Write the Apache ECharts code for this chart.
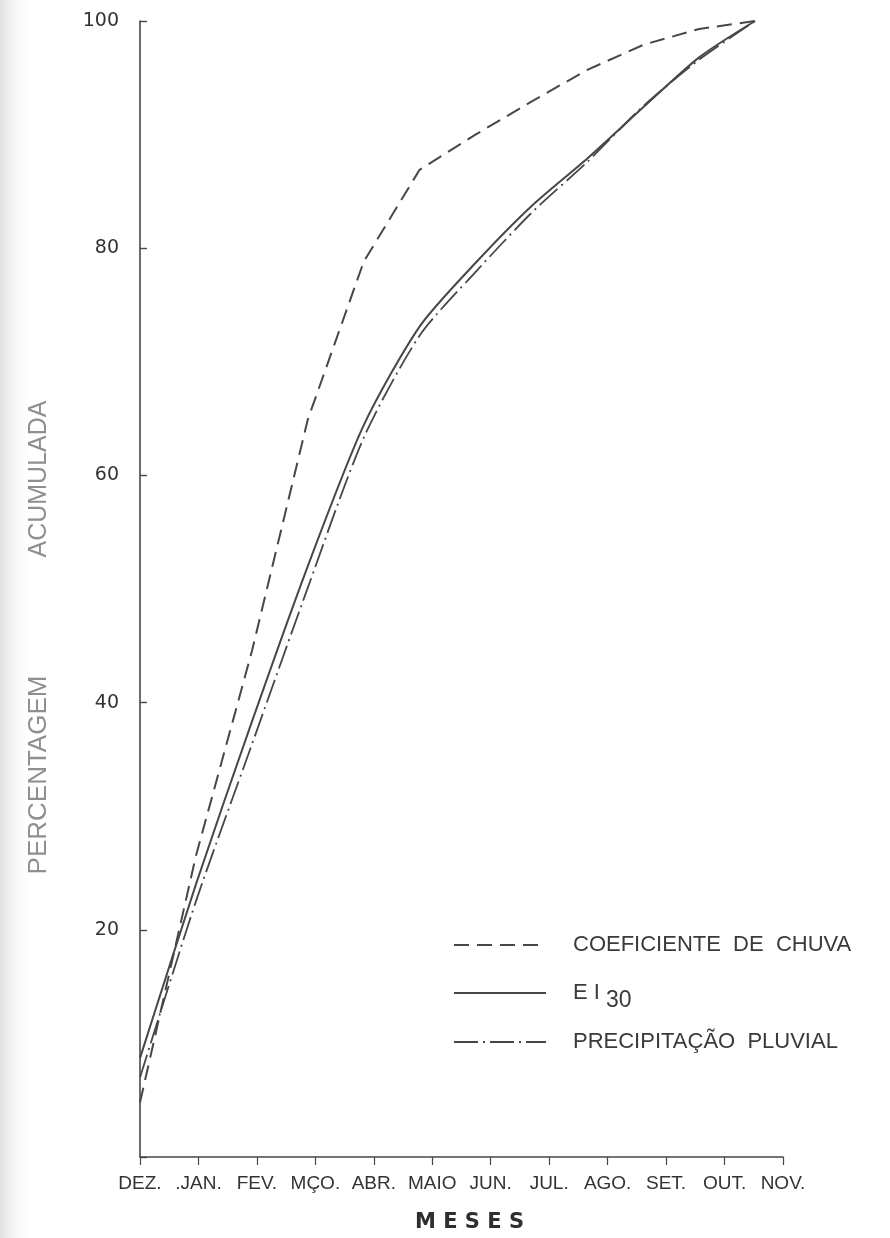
<!DOCTYPE html>
<html>
<head>
<meta charset="utf-8">
<script src="https://cdn.jsdelivr.net/npm/echarts@6/dist/echarts.min.js"></script>
<style>
html,body{margin:0;padding:0;background:#fff;}
#c{width:890px;height:1238px;}
</style>
</head>
<body>
<div id="c"></div>
<script>
// ---- data ----
const months = ['DEZ.', '.JAN.', 'FEV.', 'MÇO.', 'ABR.', 'MAIO', 'JUN.', 'JUL.', 'AGO.', 'SET.', 'OUT.', 'NOV.'];
const coefChuva = [4.8, 26.5, 44.5, 64.9, 78.8, 86.9, 90.0, 92.9, 95.7, 97.9, 99.3, 100];
const ei30 = [8.7, 24.0, 38.3, 52.0, 64.4, 73.1, 78.7, 83.7, 87.9, 92.4, 96.8, 100];
const precipitacao = [7.0, 22.5, 36.3, 50.1, 63.3, 72.3, 77.9, 83.1, 87.6, 92.5, 96.6, 100];
const yTickLabels = [20, 40, 60, 80, 100];
const seriesNames = ['COEFICIENTE  DE  CHUVA', 'EI30', 'PRECIPITAÇÃO  PLUVIAL'];

const ink = '#474747';
const pairs = arr => arr.map((v, i) => [i, v]);

const chart = echarts.init(document.getElementById('c'), null, {renderer: 'canvas'});

function legendAt(name, top) {
  const isEI = name === 'EI30';
  return {
    data: [name],
    left: 448,
    top: top,
    orient: 'vertical',
    itemWidth: 92,
    itemHeight: 16,
    selectedMode: false,
    itemStyle: {opacity: 0},
    textStyle: {
      fontFamily: 'Liberation Sans, Arial, sans-serif',
      fontSize: 22,
      color: '#3a3a3a',
      padding: isEI ? 0 : [0, 0, 0, 22],
      rich: {
        a: {fontFamily: 'Liberation Sans, sans-serif', fontSize: 22, color: '#3a3a3a', padding: [0, 0, 0, 22]},
        s: {fontFamily: 'Liberation Sans, sans-serif', fontSize: 23, color: '#3a3a3a', padding: [16, 0, 0, 6]}
      }
    },
    formatter: n => n === 'EI30' ? '{a|E I}{s|30}' : n
  };
}

const option = {
  backgroundColor: '#ffffff',
  animation: false,
  grid: {left: 140, right: 107, top: 21, bottom: 81, containLabel: false},
  legend: [
    legendAt(seriesNames[0], 929),
    legendAt(seriesNames[1], 977),
    legendAt(seriesNames[2], 1026)
  ],
  xAxis: [
    {
      type: 'category',
      data: months,
      boundaryGap: false,
      axisLine: {lineStyle: {color: ink, width: 1.6}},
      axisTick: {show: true, inside: false, length: 8, interval: 0, lineStyle: {color: ink, width: 1.2}},
      axisLabel: {
        interval: 0,
        margin: 17,
        fontFamily: 'Liberation Sans, Arial, sans-serif',
        fontSize: 19,
        color: '#333'
      },
      splitLine: {show: false},
      name: 'M E S E S',
      nameLocation: 'middle',
      nameGap: 55,
      nameTextStyle: {
        fontFamily: 'DejaVu Sans, sans-serif',
        fontSize: 21,
        fontWeight: 'bold',
        color: '#2e2e2e',
        padding: [0, 0, 0, 16]
      }
    },
    {
      type: 'value',
      min: 0,
      max: 11.5,
      show: false
    }
  ],
  yAxis: {
    type: 'value',
    min: 0,
    max: 100,
    interval: 20,
    axisLine: {show: true, lineStyle: {color: ink, width: 1.6}},
    axisTick: {show: true, inside: true, length: 7, lineStyle: {color: ink, width: 1.4}},
    axisLabel: {
      margin: 21,
      fontFamily: 'DejaVu Sans, sans-serif',
      fontSize: 19,
      color: '#333',
      formatter: v => yTickLabels.indexOf(v) >= 0 ? String(v) : ''
    },
    splitLine: {show: false}
  },
  graphic: [
    {
      type: 'rect', left: 0, top: 0, z: -10,
      shape: {width: 34, height: 1238},
      style: {fill: new echarts.graphic.LinearGradient(0, 0, 1, 0, [
        {offset: 0, color: 'rgba(200,200,200,0.55)'},
        {offset: 1, color: 'rgba(255,255,255,0)'}
      ])}
    },
    {
      type: 'text', x: 39, y: 479, rotation: Math.PI / 2,
      style: {text: 'ACUMULADA', fontFamily: 'Liberation Sans, sans-serif', fontSize: 25,
              fill: '#8f8f8f', align: 'center', verticalAlign: 'middle'}
    },
    {
      type: 'text', x: 39, y: 775, rotation: Math.PI / 2,
      style: {text: 'PERCENTAGEM', fontFamily: 'Liberation Sans, sans-serif', fontSize: 26,
              fill: '#8f8f8f', align: 'center', verticalAlign: 'middle'}
    }
  ],
  series: [
    {
      name: seriesNames[0], type: 'line', xAxisIndex: 1,
      data: pairs(coefChuva), symbol: 'none', smooth: false,
      lineStyle: {color: ink, width: 2, type: [15, 8]},
      itemStyle: {color: ink}
    },
    {
      name: seriesNames[1], type: 'line', xAxisIndex: 1,
      data: pairs(ei30), symbol: 'none', smooth: 0.25,
      lineStyle: {color: ink, width: 2, type: 'solid'},
      itemStyle: {color: ink}
    },
    {
      name: seriesNames[2], type: 'line', xAxisIndex: 1,
      data: pairs(precipitacao), symbol: 'none', smooth: 0.25,
      lineStyle: {color: ink, width: 1.8, type: [24, 5, 2, 5]},
      itemStyle: {color: ink}
    }
  ]
};
chart.setOption(option);
</script>
</body>
</html>
